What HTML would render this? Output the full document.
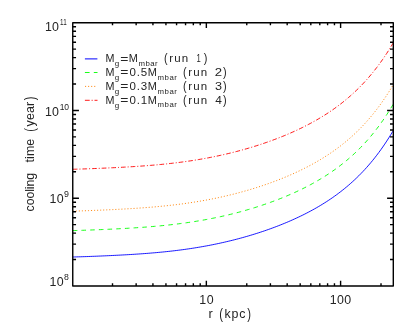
<!DOCTYPE html>
<html><head><meta charset="utf-8"><style>
html,body{margin:0;padding:0;background:#fff;}
svg{display:block;will-change:transform}
g.t{filter:grayscale(1)}
text{font-family:"Liberation Sans",sans-serif;fill:#242424;}
</style></head><body>
<svg width="415" height="332" viewBox="0 0 415 332">
<rect width="415" height="332" fill="#fff"/>
<g fill="none" stroke-width="0.9">
<path d="M72.75,257.00 L74.75,256.95 L76.75,256.89 L78.75,256.83 L80.75,256.77 L82.75,256.70 L84.75,256.64 L86.75,256.57 L88.75,256.50 L90.75,256.42 L92.75,256.34 L94.75,256.27 L96.75,256.19 L98.75,256.10 L100.75,256.02 L102.75,255.93 L104.75,255.85 L106.75,255.76 L108.75,255.67 L110.75,255.57 L112.75,255.48 L114.75,255.38 L116.75,255.28 L118.75,255.18 L120.75,255.07 L122.75,254.96 L124.75,254.85 L126.75,254.74 L128.75,254.62 L130.75,254.50 L132.75,254.38 L134.75,254.25 L136.75,254.12 L138.75,253.99 L140.75,253.85 L142.75,253.71 L144.75,253.56 L146.75,253.41 L148.75,253.25 L150.75,253.09 L152.75,252.92 L154.75,252.75 L156.75,252.57 L158.75,252.39 L160.75,252.20 L162.75,252.00 L164.75,251.80 L166.75,251.59 L168.75,251.38 L170.75,251.16 L172.75,250.93 L174.75,250.69 L176.75,250.45 L178.75,250.20 L180.75,249.94 L182.75,249.68 L184.75,249.41 L186.75,249.12 L188.75,248.84 L190.75,248.54 L192.75,248.23 L194.75,247.92 L196.75,247.59 L198.75,247.26 L200.75,246.92 L202.75,246.57 L204.75,246.21 L206.75,245.85 L208.75,245.47 L210.75,245.08 L212.75,244.69 L214.75,244.28 L216.75,243.87 L218.75,243.44 L220.75,243.01 L222.75,242.56 L224.75,242.11 L226.75,241.64 L228.75,241.17 L230.75,240.68 L232.75,240.19 L234.75,239.68 L236.75,239.16 L238.75,238.64 L240.75,238.10 L242.75,237.55 L244.75,236.99 L246.75,236.42 L248.75,235.83 L250.75,235.24 L252.75,234.63 L254.75,234.02 L256.75,233.39 L258.75,232.74 L260.75,232.09 L262.75,231.43 L264.75,230.75 L266.75,230.06 L268.75,229.35 L270.75,228.63 L272.75,227.90 L274.75,227.16 L276.75,226.40 L278.75,225.62 L280.75,224.84 L282.75,224.03 L284.75,223.21 L286.75,222.38 L288.75,221.53 L290.75,220.66 L292.75,219.78 L294.75,218.87 L296.75,217.95 L298.75,217.01 L300.75,216.06 L302.75,215.08 L304.75,214.08 L306.75,213.06 L308.75,212.01 L310.75,210.95 L312.75,209.86 L314.75,208.75 L316.75,207.61 L318.75,206.44 L320.75,205.25 L322.75,204.03 L324.75,202.78 L326.75,201.50 L328.75,200.19 L330.75,198.85 L332.75,197.47 L334.75,196.06 L336.75,194.61 L338.75,193.12 L340.75,191.59 L342.75,190.02 L344.75,188.41 L346.75,186.76 L348.75,185.06 L350.75,183.31 L352.75,181.51 L354.75,179.66 L356.75,177.75 L358.75,175.79 L360.75,173.77 L362.75,171.69 L364.75,169.55 L366.75,167.34 L368.75,165.06 L370.75,162.71 L372.75,160.30 L374.75,157.80 L376.75,155.23 L378.75,152.57 L380.75,149.83 L382.75,147.00 L384.75,144.08 L386.75,141.06 L388.75,137.95 L390.75,134.74 L392.75,131.41 L393.30,130.48" stroke="#0000ff"/>
<path d="M72.75,230.59 L74.75,230.54 L76.75,230.48 L78.75,230.42 L80.75,230.36 L82.75,230.29 L84.75,230.23 L86.75,230.16 L88.75,230.09 L90.75,230.01 L92.75,229.93 L94.75,229.86 L96.75,229.78 L98.75,229.69 L100.75,229.61 L102.75,229.52 L104.75,229.44 L106.75,229.35 L108.75,229.26 L110.75,229.16 L112.75,229.07 L114.75,228.97 L116.75,228.87 L118.75,228.77 L120.75,228.66 L122.75,228.55 L124.75,228.44 L126.75,228.33 L128.75,228.21 L130.75,228.09 L132.75,227.97 L134.75,227.84 L136.75,227.71 L138.75,227.58 L140.75,227.44 L142.75,227.30 L144.75,227.15 L146.75,227.00 L148.75,226.84 L150.75,226.68 L152.75,226.51 L154.75,226.34 L156.75,226.16 L158.75,225.98 L160.75,225.79 L162.75,225.59 L164.75,225.39 L166.75,225.18 L168.75,224.97 L170.75,224.75 L172.75,224.52 L174.75,224.28 L176.75,224.04 L178.75,223.79 L180.75,223.53 L182.75,223.27 L184.75,223.00 L186.75,222.71 L188.75,222.42 L190.75,222.13 L192.75,221.82 L194.75,221.51 L196.75,221.18 L198.75,220.85 L200.75,220.51 L202.75,220.16 L204.75,219.80 L206.75,219.44 L208.75,219.06 L210.75,218.67 L212.75,218.28 L214.75,217.87 L216.75,217.46 L218.75,217.03 L220.75,216.60 L222.75,216.15 L224.75,215.70 L226.75,215.23 L228.75,214.76 L230.75,214.27 L232.75,213.78 L234.75,213.27 L236.75,212.75 L238.75,212.23 L240.75,211.69 L242.75,211.14 L244.75,210.58 L246.75,210.01 L248.75,209.42 L250.75,208.83 L252.75,208.22 L254.75,207.61 L256.75,206.98 L258.75,206.33 L260.75,205.68 L262.75,205.01 L264.75,204.34 L266.75,203.64 L268.75,202.94 L270.75,202.22 L272.75,201.49 L274.75,200.75 L276.75,199.99 L278.75,199.21 L280.75,198.43 L282.75,197.62 L284.75,196.80 L286.75,195.97 L288.75,195.12 L290.75,194.25 L292.75,193.37 L294.75,192.46 L296.75,191.54 L298.75,190.60 L300.75,189.64 L302.75,188.67 L304.75,187.67 L306.75,186.65 L308.75,185.60 L310.75,184.54 L312.75,183.45 L314.75,182.34 L316.75,181.20 L318.75,180.03 L320.75,178.84 L322.75,177.62 L324.75,176.37 L326.75,175.09 L328.75,173.78 L330.75,172.44 L332.75,171.06 L334.75,169.65 L336.75,168.20 L338.75,166.71 L340.75,165.18 L342.75,163.61 L344.75,162.00 L346.75,160.35 L348.75,158.65 L350.75,156.90 L352.75,155.10 L354.75,153.25 L356.75,151.34 L358.75,149.38 L360.75,147.36 L362.75,145.28 L364.75,143.14 L366.75,140.93 L368.75,138.65 L370.75,136.30 L372.75,133.88 L374.75,131.39 L376.75,128.82 L378.75,126.16 L380.75,123.42 L382.75,120.59 L384.75,117.67 L386.75,114.65 L388.75,111.54 L390.75,108.33 L392.75,105.00 L393.30,104.07" stroke="#00ff00" stroke-dasharray="4.6 4.1"/>
<path d="M72.75,211.13 L74.75,211.07 L76.75,211.02 L78.75,210.96 L80.75,210.90 L82.75,210.83 L84.75,210.76 L86.75,210.69 L88.75,210.62 L90.75,210.55 L92.75,210.47 L94.75,210.39 L96.75,210.31 L98.75,210.23 L100.75,210.15 L102.75,210.06 L104.75,209.97 L106.75,209.88 L108.75,209.79 L110.75,209.70 L112.75,209.60 L114.75,209.50 L116.75,209.40 L118.75,209.30 L120.75,209.20 L122.75,209.09 L124.75,208.98 L126.75,208.86 L128.75,208.75 L130.75,208.63 L132.75,208.51 L134.75,208.38 L136.75,208.25 L138.75,208.11 L140.75,207.97 L142.75,207.83 L144.75,207.68 L146.75,207.53 L148.75,207.38 L150.75,207.21 L152.75,207.05 L154.75,206.88 L156.75,206.70 L158.75,206.51 L160.75,206.32 L162.75,206.13 L164.75,205.93 L166.75,205.72 L168.75,205.51 L170.75,205.28 L172.75,205.06 L174.75,204.82 L176.75,204.58 L178.75,204.33 L180.75,204.07 L182.75,203.80 L184.75,203.53 L186.75,203.25 L188.75,202.96 L190.75,202.66 L192.75,202.36 L194.75,202.04 L196.75,201.72 L198.75,201.39 L200.75,201.05 L202.75,200.70 L204.75,200.34 L206.75,199.97 L208.75,199.60 L210.75,199.21 L212.75,198.81 L214.75,198.41 L216.75,197.99 L218.75,197.57 L220.75,197.13 L222.75,196.69 L224.75,196.23 L226.75,195.77 L228.75,195.29 L230.75,194.81 L232.75,194.31 L234.75,193.81 L236.75,193.29 L238.75,192.76 L240.75,192.22 L242.75,191.67 L244.75,191.11 L246.75,190.54 L248.75,189.96 L250.75,189.37 L252.75,188.76 L254.75,188.14 L256.75,187.51 L258.75,186.87 L260.75,186.22 L262.75,185.55 L264.75,184.87 L266.75,184.18 L268.75,183.48 L270.75,182.76 L272.75,182.03 L274.75,181.28 L276.75,180.52 L278.75,179.75 L280.75,178.96 L282.75,178.16 L284.75,177.34 L286.75,176.51 L288.75,175.65 L290.75,174.79 L292.75,173.90 L294.75,173.00 L296.75,172.08 L298.75,171.14 L300.75,170.18 L302.75,169.20 L304.75,168.20 L306.75,167.18 L308.75,166.14 L310.75,165.08 L312.75,163.99 L314.75,162.87 L316.75,161.73 L318.75,160.57 L320.75,159.38 L322.75,158.16 L324.75,156.91 L326.75,155.63 L328.75,154.32 L330.75,152.97 L332.75,151.60 L334.75,150.18 L336.75,148.73 L338.75,147.25 L340.75,145.72 L342.75,144.15 L344.75,142.54 L346.75,140.88 L348.75,139.18 L350.75,137.43 L352.75,135.63 L354.75,133.78 L356.75,131.88 L358.75,129.91 L360.75,127.89 L362.75,125.81 L364.75,123.67 L366.75,121.46 L368.75,119.19 L370.75,116.84 L372.75,114.42 L374.75,111.93 L376.75,109.35 L378.75,106.70 L380.75,103.95 L382.75,101.13 L384.75,98.21 L386.75,95.19 L388.75,92.08 L390.75,88.86 L392.75,85.54 L393.30,84.61" stroke="#ff8000" stroke-dasharray="1.1 1.94"/>
<path d="M72.75,169.27 L74.75,169.21 L76.75,169.16 L78.75,169.10 L80.75,169.04 L82.75,168.97 L84.75,168.90 L86.75,168.83 L88.75,168.76 L90.75,168.69 L92.75,168.61 L94.75,168.53 L96.75,168.45 L98.75,168.37 L100.75,168.29 L102.75,168.20 L104.75,168.11 L106.75,168.02 L108.75,167.93 L110.75,167.84 L112.75,167.74 L114.75,167.65 L116.75,167.55 L118.75,167.44 L120.75,167.34 L122.75,167.23 L124.75,167.12 L126.75,167.01 L128.75,166.89 L130.75,166.77 L132.75,166.65 L134.75,166.52 L136.75,166.39 L138.75,166.25 L140.75,166.12 L142.75,165.97 L144.75,165.83 L146.75,165.67 L148.75,165.52 L150.75,165.35 L152.75,165.19 L154.75,165.02 L156.75,164.84 L158.75,164.65 L160.75,164.47 L162.75,164.27 L164.75,164.07 L166.75,163.86 L168.75,163.65 L170.75,163.42 L172.75,163.20 L174.75,162.96 L176.75,162.72 L178.75,162.47 L180.75,162.21 L182.75,161.95 L184.75,161.67 L186.75,161.39 L188.75,161.10 L190.75,160.80 L192.75,160.50 L194.75,160.18 L196.75,159.86 L198.75,159.53 L200.75,159.19 L202.75,158.84 L204.75,158.48 L206.75,158.11 L208.75,157.74 L210.75,157.35 L212.75,156.95 L214.75,156.55 L216.75,156.13 L218.75,155.71 L220.75,155.27 L222.75,154.83 L224.75,154.37 L226.75,153.91 L228.75,153.43 L230.75,152.95 L232.75,152.45 L234.75,151.95 L236.75,151.43 L238.75,150.90 L240.75,150.36 L242.75,149.81 L244.75,149.25 L246.75,148.68 L248.75,148.10 L250.75,147.51 L252.75,146.90 L254.75,146.28 L256.75,145.65 L258.75,145.01 L260.75,144.36 L262.75,143.69 L264.75,143.01 L266.75,142.32 L268.75,141.62 L270.75,140.90 L272.75,140.17 L274.75,139.42 L276.75,138.66 L278.75,137.89 L280.75,137.10 L282.75,136.30 L284.75,135.48 L286.75,134.65 L288.75,133.80 L290.75,132.93 L292.75,132.04 L294.75,131.14 L296.75,130.22 L298.75,129.28 L300.75,128.32 L302.75,127.34 L304.75,126.34 L306.75,125.32 L308.75,124.28 L310.75,123.22 L312.75,122.13 L314.75,121.01 L316.75,119.88 L318.75,118.71 L320.75,117.52 L322.75,116.30 L324.75,115.05 L326.75,113.77 L328.75,112.46 L330.75,111.12 L332.75,109.74 L334.75,108.32 L336.75,106.87 L338.75,105.39 L340.75,103.86 L342.75,102.29 L344.75,100.68 L346.75,99.02 L348.75,97.32 L350.75,95.57 L352.75,93.77 L354.75,91.92 L356.75,90.02 L358.75,88.06 L360.75,86.04 L362.75,83.96 L364.75,81.81 L366.75,79.60 L368.75,77.33 L370.75,74.98 L372.75,72.56 L374.75,70.07 L376.75,67.49 L378.75,64.84 L380.75,62.10 L382.75,59.27 L384.75,56.35 L386.75,53.33 L388.75,50.22 L390.75,47.00 L392.75,43.68 L393.30,42.75" stroke="#ff0000" stroke-dasharray="4.7 2 1 1.95"/>
<path d="M84.9,58.9 H97.4" stroke="#0000ff" stroke-width="1"/>
<path d="M84.9,72.5 H97.5" stroke="#00ff00" stroke-dasharray="4.7 4.2"/>
<path d="M85.0,86.4 H96.0" stroke="#ff8000" stroke-dasharray="1.1 1.96"/>
<path d="M84.9,100.3 H97.5" stroke="#ff0000" stroke-dasharray="4.8 1.9 1.1 1.8"/>
</g>
<g fill="none" stroke="#000" stroke-width="1.4" stroke-linejoin="round">
<rect x="72.75" y="22.75" width="320.55" height="263.20"/>
<path d="M112.51,285.95 v-2.6 M112.51,22.75 v2.6 M136.15,285.95 v-2.6 M136.15,22.75 v2.6 M152.93,285.95 v-2.6 M152.93,22.75 v2.6 M165.94,285.95 v-2.6 M165.94,22.75 v2.6 M176.57,285.95 v-2.6 M176.57,22.75 v2.6 M185.55,285.95 v-2.6 M185.55,22.75 v2.6 M193.34,285.95 v-2.6 M193.34,22.75 v2.6 M200.21,285.95 v-2.6 M200.21,22.75 v2.6 M206.35,285.95 v-5.3 M206.35,22.75 v5.3 M246.76,285.95 v-2.6 M246.76,22.75 v2.6 M270.40,285.95 v-2.6 M270.40,22.75 v2.6 M287.18,285.95 v-2.6 M287.18,22.75 v2.6 M300.19,285.95 v-2.6 M300.19,22.75 v2.6 M310.82,285.95 v-2.6 M310.82,22.75 v2.6 M319.80,285.95 v-2.6 M319.80,22.75 v2.6 M327.59,285.95 v-2.6 M327.59,22.75 v2.6 M334.46,285.95 v-2.6 M334.46,22.75 v2.6 M340.60,285.95 v-5.3 M340.60,22.75 v5.3 M381.01,285.95 v-2.6 M381.01,22.75 v2.6 M72.75,259.54 h3.3 M393.3,259.54 h-3.3 M72.75,244.09 h3.3 M393.3,244.09 h-3.3 M72.75,233.13 h3.3 M393.3,233.13 h-3.3 M72.75,224.63 h3.3 M393.3,224.63 h-3.3 M72.75,217.68 h3.3 M393.3,217.68 h-3.3 M72.75,211.81 h3.3 M393.3,211.81 h-3.3 M72.75,206.72 h3.3 M393.3,206.72 h-3.3 M72.75,202.23 h3.3 M393.3,202.23 h-3.3 M72.75,198.22 h6.2 M393.3,198.22 h-6.2 M72.75,171.81 h3.3 M393.3,171.81 h-3.3 M72.75,156.36 h3.3 M393.3,156.36 h-3.3 M72.75,145.40 h3.3 M393.3,145.40 h-3.3 M72.75,136.89 h3.3 M393.3,136.89 h-3.3 M72.75,129.95 h3.3 M393.3,129.95 h-3.3 M72.75,124.07 h3.3 M393.3,124.07 h-3.3 M72.75,118.99 h3.3 M393.3,118.99 h-3.3 M72.75,114.50 h3.3 M393.3,114.50 h-3.3 M72.75,110.48 h6.2 M393.3,110.48 h-6.2 M72.75,84.07 h3.3 M393.3,84.07 h-3.3 M72.75,68.62 h3.3 M393.3,68.62 h-3.3 M72.75,57.66 h3.3 M393.3,57.66 h-3.3 M72.75,49.16 h3.3 M393.3,49.16 h-3.3 M72.75,42.21 h3.3 M393.3,42.21 h-3.3 M72.75,36.34 h3.3 M393.3,36.34 h-3.3 M72.75,31.25 h3.3 M393.3,31.25 h-3.3 M72.75,26.76 h3.3 M393.3,26.76 h-3.3"/>
</g>
<g class="t">
<text x="45.06" y="31.00" font-size="12.4" letter-spacing="0.036">10</text>
<text transform="translate(60.12,25.10) scale(0.739,1)" font-size="8.5">11</text>
<text x="44.96" y="115.80" font-size="12.4" letter-spacing="0.236">10</text>
<text x="59.65" y="109.80" font-size="8.5" letter-spacing="-0.175">10</text>
<text x="49.56" y="203.30" font-size="12.4" letter-spacing="0.436">10</text>
<text transform="translate(63.98,197.40) scale(1.044,1.0)" font-size="8.5">9</text>
<text x="49.56" y="286.30" font-size="12.4" letter-spacing="0.436">10</text>
<text transform="translate(64.02,280.40) scale(1.028,1.0)" font-size="8.5">8</text>
<text x="199.16" y="303.60" font-size="12.4" letter-spacing="0.736">10</text>
<text x="329.76" y="303.70" font-size="12.4" letter-spacing="0.420">100</text>
<text transform="translate(208.55,318.20) scale(1.032,1.0)" font-size="12.4">r</text>
<text transform="translate(219.30,318.60) scale(0.912,1.12)" font-size="12.4">(</text>
<text x="224.56" y="318.20" font-size="12.4" letter-spacing="0.833">kpc</text>
<text transform="translate(247.13,318.60) scale(0.912,1.12)" font-size="12.4">)</text>
<g transform="translate(34.4,211.5) rotate(-90)"><text x="0.07" y="0.00" font-size="12.4" letter-spacing="-0.128">cooling</text><text x="49.11" y="0.00" font-size="12.4" letter-spacing="0.038">time</text><text transform="translate(79.82,0.40) scale(0.882,1.12)" font-size="12.4">(</text><text x="85.07" y="0.00" font-size="12.4" letter-spacing="0.171">year</text><text transform="translate(111.14,0.40) scale(0.882,1.12)" font-size="12.4">)</text></g>
<text transform="translate(105.62,62.00) scale(0.936,1.0)" font-size="11.5">M</text>
<text transform="translate(114.86,66.20) scale(1.026,1.0)" font-size="7.8">g</text>
<text transform="translate(120.32,62.50) scale(1.217,0.9)" font-size="11.5">=</text>
<text transform="translate(128.70,62.00) scale(0.949,1.0)" font-size="11.5">M</text>
<text x="138.48" y="65.80" font-size="7.8" letter-spacing="0.492">mbar</text>
<text transform="translate(164.02,62.40) scale(0.951,1.12)" font-size="11.5">(</text>
<text x="169.24" y="62.00" font-size="11.5" letter-spacing="1.145">run</text>
<text transform="translate(196.42,62.00) scale(0.666,1.0)" font-size="11.5">1</text>
<text transform="translate(203.84,62.40) scale(0.951,1.12)" font-size="11.5">)</text>
<text transform="translate(105.62,75.85) scale(0.936,1.0)" font-size="11.5">M</text>
<text transform="translate(114.86,80.05) scale(1.026,1.0)" font-size="7.8">g</text>
<text transform="translate(120.32,76.35) scale(1.217,0.9)" font-size="11.5">=</text>
<text x="129.45" y="75.85" font-size="11.5" letter-spacing="0.823">0.5</text>
<text transform="translate(147.80,75.85) scale(0.949,1.0)" font-size="11.5">M</text>
<text x="157.58" y="79.65" font-size="7.8" letter-spacing="0.492">mbar</text>
<text transform="translate(183.12,76.25) scale(0.951,1.12)" font-size="11.5">(</text>
<text x="188.34" y="75.85" font-size="11.5" letter-spacing="1.145">run</text>
<text transform="translate(214.84,75.85) scale(1.145,1.0)" font-size="11.5">2</text>
<text transform="translate(222.94,76.25) scale(0.951,1.12)" font-size="11.5">)</text>
<text transform="translate(105.62,89.70) scale(0.936,1.0)" font-size="11.5">M</text>
<text transform="translate(114.86,93.90) scale(1.026,1.0)" font-size="7.8">g</text>
<text transform="translate(120.32,90.20) scale(1.217,0.9)" font-size="11.5">=</text>
<text x="129.45" y="89.70" font-size="11.5" letter-spacing="0.834">0.3</text>
<text transform="translate(147.80,89.70) scale(0.949,1.0)" font-size="11.5">M</text>
<text x="157.58" y="93.50" font-size="7.8" letter-spacing="0.492">mbar</text>
<text transform="translate(183.12,90.10) scale(0.951,1.12)" font-size="11.5">(</text>
<text x="188.34" y="89.70" font-size="11.5" letter-spacing="1.145">run</text>
<text transform="translate(215.02,89.70) scale(1.100,1.0)" font-size="11.5">3</text>
<text transform="translate(222.94,90.10) scale(0.951,1.12)" font-size="11.5">)</text>
<text transform="translate(105.62,103.60) scale(0.936,1.0)" font-size="11.5">M</text>
<text transform="translate(114.86,107.80) scale(1.026,1.0)" font-size="7.8">g</text>
<text transform="translate(120.32,104.10) scale(1.217,0.9)" font-size="11.5">=</text>
<text x="129.45" y="103.60" font-size="11.5" letter-spacing="0.862">0.1</text>
<text transform="translate(147.80,103.60) scale(0.949,1.0)" font-size="11.5">M</text>
<text x="157.58" y="107.40" font-size="7.8" letter-spacing="0.492">mbar</text>
<text transform="translate(183.12,104.00) scale(0.951,1.12)" font-size="11.5">(</text>
<text x="188.34" y="103.60" font-size="11.5" letter-spacing="1.145">run</text>
<text transform="translate(215.23,103.60) scale(1.035,1.0)" font-size="11.5">4</text>
<text transform="translate(222.94,104.00) scale(0.951,1.12)" font-size="11.5">)</text>
</g>
</svg>
</body></html>
